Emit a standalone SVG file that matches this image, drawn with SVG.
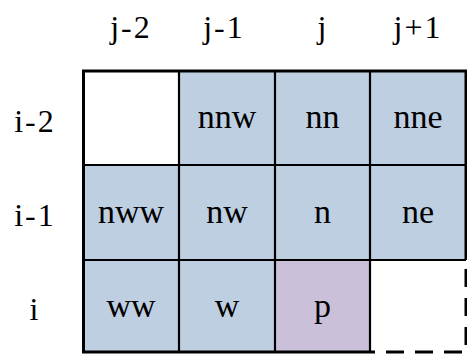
<svg xmlns="http://www.w3.org/2000/svg" width="467" height="354" viewBox="0 0 467 354">
<style>
text{font-family:'Liberation Serif','Times New Roman',Times,serif;fill:#000;text-anchor:middle}
.hdr{font-size:32px;letter-spacing:2px}
.lbl{font-size:34px}
.b{fill:#bfcfe2}
.p{fill:#cbc0da}
.w{fill:#fff}
.grid{stroke:#000;stroke-width:2.2;fill:none}
.outer{stroke:#000;stroke-width:3;fill:none}
.dash{stroke:#000;stroke-width:3;fill:none;stroke-dasharray:18 11}
</style>
<rect width="467" height="354" fill="#fff"/>
<g id="headers">
<text class="hdr" x="131" y="38">j-2</text>
<text class="hdr" x="224" y="38">j-1</text>
<text class="hdr" x="323" y="38">j</text>
<text class="hdr" x="418" y="38">j+1</text>
<text class="hdr" x="35" y="132">i-2</text>
<text class="hdr" x="35" y="226">i-1</text>
<text class="hdr" x="35" y="320">i</text>
</g>
<g id="cell-r1c1"><rect class="w" x="83.5" y="71" width="95.5" height="94"/></g>
<g id="cell-nnw"><rect class="b" x="179" y="71" width="96" height="94"/><text class="lbl" x="227" y="128">nnw</text></g>
<g id="cell-nn"><rect class="b" x="275" y="71" width="95" height="94"/><text class="lbl" x="322.5" y="128">nn</text></g>
<g id="cell-nne"><rect class="b" x="370" y="71" width="96" height="94"/><text class="lbl" x="418" y="128">nne</text></g>
<g id="cell-nww"><rect class="b" x="83.5" y="165" width="95.5" height="95"/><text class="lbl" x="131" y="223">nww</text></g>
<g id="cell-nw"><rect class="b" x="179" y="165" width="96" height="95"/><text class="lbl" x="227" y="223">nw</text></g>
<g id="cell-n"><rect class="b" x="275" y="165" width="95" height="95"/><text class="lbl" x="322.5" y="223">n</text></g>
<g id="cell-ne"><rect class="b" x="370" y="165" width="96" height="95"/><text class="lbl" x="418" y="223">ne</text></g>
<g id="cell-ww"><rect class="b" x="83.5" y="260" width="95.5" height="92"/><text class="lbl" x="131" y="317">ww</text></g>
<g id="cell-w"><rect class="b" x="179" y="260" width="96" height="92"/><text class="lbl" x="227" y="317">w</text></g>
<g id="cell-p"><rect class="p" x="275" y="260" width="95" height="92"/><text class="lbl" x="322.5" y="317">p</text></g>
<g id="cell-r3c4"><rect class="w" x="370" y="260" width="96" height="92"/></g>
<g id="connectors">
<line class="grid" x1="179" y1="71" x2="179" y2="352"/>
<line class="grid" x1="275" y1="71" x2="275" y2="352"/>
<line class="grid" x1="370" y1="71" x2="370" y2="352"/>
<line class="grid" x1="83.5" y1="165" x2="466" y2="165"/>
<line class="grid" x1="83.5" y1="260" x2="466" y2="260"/>
<polyline class="outer" points="370,352 83.5,352 83.5,71 466,71 466,260"/>
<polyline class="dash" points="466,261 466,352 370,352" stroke-dashoffset="-8"/>
</g>
</svg>
